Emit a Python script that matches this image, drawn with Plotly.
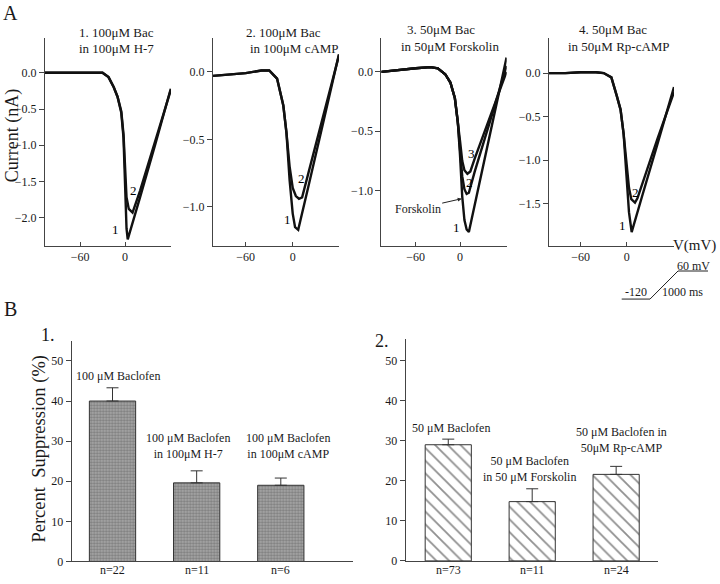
import plotly.graph_objects as go

# ---------------- data: panel A (I-V curves) ----------------
# Subplot 1: 100uM Bac in 100uM H-7
a1_v1 = [-106.7, -80, -60, -40, -30, -22, -15, -10, -5, -2, 0, 2, 3.6, 8, 20, 40, 61]
a1_i1 = [0.0, 0.0, 0.0, 0.01, 0.0, -0.06, -0.2, -0.33, -0.55, -0.9, -1.6, -2.15, -2.30, -2.15, -1.72, -1.0, -0.22]
a1_v2 = [-106.7, -80, -60, -40, -30, -22, -15, -10, -5, -2, 0, 2, 5, 10, 20, 40, 61]
a1_i2 = [0.0, 0.0, 0.0, 0.01, 0.0, -0.06, -0.2, -0.33, -0.53, -0.85, -1.3, -1.72, -1.88, -1.93, -1.63, -0.95, -0.24]

# Subplot 2: 100uM Bac in 100uM cAMP
a2_v1 = [-101.8, -80, -60, -40, -30, -20, -12, -8, -4, 0, 3, 7, 10, 20, 40, 59]
a2_i1 = [-0.03, -0.02, -0.01, 0.01, 0.01, -0.05, -0.25, -0.45, -0.8, -1.05, -1.15, -1.17, -1.1, -0.85, -0.35, 0.13]
a2_v2 = [-101.8, -80, -60, -40, -30, -20, -12, -8, -4, 0, 4, 8, 12, 20, 40, 59]
a2_i2 = [-0.03, -0.02, -0.01, 0.01, 0.01, -0.05, -0.25, -0.45, -0.7, -0.86, -0.92, -0.94, -0.93, -0.75, -0.3, 0.12]

# Subplot 3: 50uM Bac in 50uM Forskolin
a3_v1 = [-106.5, -80, -60, -40, -30, -20, -13, -7, -3, 0, 3, 6, 9, 12, 20, 40, 63]
a3_i1 = [0.0, 0.02, 0.03, 0.04, 0.03, -0.02, -0.09, -0.22, -0.42, -0.7, -1.05, -1.25, -1.33, -1.35, -1.12, -0.54, 0.12]
a3_v2 = [-106.5, -80, -60, -40, -30, -20, -13, -7, -3, 0, 3, 6, 9, 12, 20, 40, 63]
a3_i2 = [0.0, 0.02, 0.03, 0.04, 0.03, -0.02, -0.09, -0.22, -0.42, -0.65, -0.88, -0.99, -1.03, -1.02, -0.84, -0.43, 0.05]
a3_v3 = [-106.5, -80, -60, -40, -30, -20, -13, -7, -3, 0, 3, 6, 10, 14, 20, 40, 63]
a3_i3 = [0.0, 0.02, 0.03, 0.04, 0.03, -0.02, -0.09, -0.22, -0.4, -0.58, -0.75, -0.83, -0.86, -0.84, -0.73, -0.39, 0.0]

# Subplot 4: 50uM Bac in 50uM Rp-cAMP
a4_v1 = [-101.3, -80, -60, -40, -30, -20, -13, -8, -4, 0, 3, 6.5, 10, 20, 40, 61.7]
a4_i1 = [0.0, 0.0, 0.01, 0.01, 0.0, -0.05, -0.26, -0.42, -0.7, -1.2, -1.6, -1.83, -1.72, -1.42, -0.82, -0.16]
a4_v2 = [-101.3, -80, -60, -40, -30, -20, -13, -8, -4, 0, 3, 6, 10.8, 14, 20, 40, 61.7]
a4_i2 = [0.0, 0.0, 0.01, 0.01, 0.0, -0.05, -0.26, -0.42, -0.7, -1.05, -1.32, -1.45, -1.49, -1.44, -1.28, -0.76, -0.22]

a_titles = [("1. 100μM Bac", "in 100μM H-7"),
            ("2. 100μM Bac", "in 100μM cAMP"),
            ("3. 50μM Bac", "in 50μM Forskolin"),
            ("4. 50μM Bac", "in 50μM Rp-cAMP")]
a_yticks = [[0.0, -0.5, -1.0, -1.5, -2.0],
            [0.0, -0.5, -1.0],
            [0.0, -0.5, -1.0],
            [0.0, -0.5, -1.0, -1.5]]
a_xticks = [-60, 0]

# ---------------- data: panel B (bar charts) ----------------
b_cats = [0, 1, 2]
b1_labels = ["n=22", "n=11", "n=6"]
b1_values = [40.0, 19.6, 19.0]
b1_errors = [3.3, 3.0, 1.8]
b1_text = ["100 μM Baclofen", "100 μM Baclofen<br>in 100μM H-7", "100 μM Baclofen<br>in 100μM cAMP"]

b2_labels = ["n=73", "n=11", "n=24"]
b2_values = [29.0, 14.8, 21.6]
b2_errors = [1.4, 3.2, 2.0]
b2_text = ["50 μM Baclofen", "50 μM Baclofen<br>in 50 μM Forskolin", "50 μM Baclofen in<br>50μM Rp-cAMP"]
b_yticks = [0, 10, 20, 30, 40, 50]

# ---------------- figure ----------------
W, H = 720, 584
FONT = "Liberation Serif"
INK = "#1a1a1a"


def px(x):
    return x / W


def py(y):
    return 1 - y / H


fig = go.Figure()

curve_sets = [
    [(a1_v1, a1_i1), (a1_v2, a1_i2)],
    [(a2_v1, a2_i1), (a2_v2, a2_i2)],
    [(a3_v1, a3_i1), (a3_v2, a3_i2), (a3_v3, a3_i3)],
    [(a4_v1, a4_i1), (a4_v2, a4_i2)],
]
for k, curves in enumerate(curve_sets):
    ax = "x" if k == 0 else f"x{k+1}"
    ay = "y" if k == 0 else f"y{k+1}"
    for v, i in curves:
        fig.add_trace(go.Scatter(x=v, y=i, mode="lines", xaxis=ax, yaxis=ay,
                                 line=dict(color="#111", width=2.4),
                                 showlegend=False, hoverinfo="skip"))

# bars
fig.add_trace(go.Bar(x=b_cats, y=b1_values, width=0.55, xaxis="x5", yaxis="y5",
                     marker=dict(color="#a0a0a0", line=dict(color="#333", width=1),
                                 pattern=dict(shape=".", fgcolor="#505050", bgcolor="#ababab",
                                              size=3, solidity=0.5)),
                     error_y=dict(type="data", array=b1_errors, arrayminus=[0, 0, 0],
                                  symmetric=False, color="#333", thickness=1, width=6),
                     showlegend=False, hoverinfo="skip"))
fig.add_trace(go.Bar(x=b_cats, y=b2_values, width=0.55, xaxis="x6", yaxis="y6",
                     marker=dict(color="white", line=dict(color="#333", width=1),
                                 pattern=dict(shape="\\", fgcolor="#222", bgcolor="white",
                                              size=9, solidity=0.2)),
                     error_y=dict(type="data", array=b2_errors, arrayminus=[0, 0, 0],
                                  symmetric=False, color="#333", thickness=1, width=6),
                     showlegend=False, hoverinfo="skip"))

tickfont = dict(family=FONT, size=12, color=INK)

# axes for panel A
a_xdom = [(45, 171), (213, 339), (381.3, 506.7), (549, 674)]
a_xrng = [(-106.7, 61.3), (-101.8, 59.1), (-106.5, 63.2), (-101.3, 61.7)]
a_yrng = [(-2.392, 0.48), (-1.29, 0.25), (-1.469, 0.285), (-1.989, 0.403)]
ydom_a = [py(249), py(38.5)]
layout_axes = {}
for k in range(4):
    xn = "xaxis" if k == 0 else f"xaxis{k+1}"
    yn = "yaxis" if k == 0 else f"yaxis{k+1}"
    xa = "x" if k == 0 else f"x{k+1}"
    ya = "y" if k == 0 else f"y{k+1}"
    layout_axes[xn] = dict(domain=[px(a_xdom[k][0]), px(a_xdom[k][1])], range=list(a_xrng[k]),
                           anchor=ya, tickvals=a_xticks, ticks="inside", ticklen=4,
                           tickcolor="#444", showline=True, linecolor="#444", linewidth=1,
                           showgrid=False, zeroline=False, tickfont=tickfont)
    layout_axes[yn] = dict(domain=ydom_a, range=list(a_yrng[k]), anchor=xa,
                           tickvals=a_yticks[k], tickformat=".1f", ticks="outside", ticklen=5,
                           tickcolor="#444", showline=True, linecolor="#444", linewidth=1,
                           showgrid=False, zeroline=False, tickfont=tickfont)

# axes for panel B
layout_axes["xaxis5"] = dict(domain=[px(71.7), px(353)], range=[-0.485, 2.858], anchor="y5",
                             tickvals=b_cats, showticklabels=False, ticks="", showline=True,
                             linecolor="#444", linewidth=1, showgrid=False, zeroline=False)
layout_axes["yaxis5"] = dict(domain=[py(568.3), py(345)], range=[0, 55.0], anchor="x5",
                             tickvals=b_yticks, ticks="outside", ticklen=5, tickcolor="#444",
                             showline=True, linecolor="#444", linewidth=1, showgrid=False,
                             zeroline=False, tickfont=tickfont)
layout_axes["xaxis6"] = dict(domain=[px(405.7), px(657.7)], range=[-0.507, 2.495], anchor="y6",
                             tickvals=b_cats, showticklabels=False, ticks="", showline=True,
                             linecolor="#444", linewidth=1, showgrid=False, zeroline=False)
layout_axes["yaxis6"] = dict(domain=[py(567.7), py(343.3)], range=[0, 55.35], anchor="x6",
                             tickvals=b_yticks, ticks="outside", ticklen=5, tickcolor="#444",
                             showline=True, linecolor="#444", linewidth=1, showgrid=False,
                             zeroline=False, tickfont=tickfont)

annotations = []


def text(x, y, s, size=13, xanchor="center", angle=0):
    annotations.append(dict(x=px(x), y=py(y), xref="paper", yref="paper", text=s,
                            showarrow=False, xanchor=xanchor, yanchor="middle",
                            textangle=angle, font=dict(family=FONT, size=size, color=INK)))


# panel letters
text(10, 13, "A", size=20)
text(10, 313, "B", size=20)
# A titles
title_pos = [(116.5, 116.5), (283, 294), (441, 450), (612.5, 619)]
title_y = [(33, 49), (33, 49), (30, 46.7), (30, 46.7)]
for k in range(4):
    text(title_pos[k][0], title_y[k][0], a_titles[k][0], size=13)
    text(title_pos[k][1], title_y[k][1], a_titles[k][1], size=13)
# axis titles
text(12, 138, "Current (nA)", size=18, angle=-90)
text(40, 454, "Percent  Suppression (%)", size=18.5, angle=-90)
text(718, 248, "V(mV)", size=15, xanchor="right")
# ramp protocol labels
text(693, 269, "60 mV", size=12)
text(636, 296, "-120", size=12)
text(682.5, 296, "1000 ms", size=12)

# curve labels (data coords)
curve_labels = [("x", "y", -13.3, -2.16, "1"), ("x", "y", 11, -1.62, "2"),
                ("x2", "y2", -6.9, -1.09, "1"), ("x2", "y2", 10.6, -0.79, "2"),
                ("x3", "y3", -4.5, -1.31, "1"), ("x3", "y3", 12.2, -0.93, "2"),
                ("x3", "y3", 14.9, -0.69, "3"),
                ("x4", "y4", -5.7, -1.75, "1"), ("x4", "y4", 12.1, -1.37, "2")]
for xr, yr, xv, yv, s in curve_labels:
    annotations.append(dict(x=xv, y=yv, xref=xr, yref=yr, text=s, showarrow=False,
                            font=dict(family=FONT, size=13, color="#000")))
annotations.append(dict(x=2.3, y=-1.07, xref="x3", yref="y3", text="Forskolin",
                        showarrow=True, arrowhead=2, arrowsize=0.8, arrowwidth=1,
                        arrowcolor="#222", ax=-44, ay=10,
                        font=dict(family=FONT, size=12, color=INK)))

# n= labels under bars (category positions on the bar axes)
for xr, labels in (("x5", b1_labels), ("x6", b2_labels)):
    for c, s in zip(b_cats, labels):
        annotations.append(dict(x=c, y=py(577), xref=xr, yref="paper", text=s, showarrow=False,
                                yanchor="middle", font=dict(family=FONT, size=12, color=INK)))

# panel B texts
text(48, 339, "1.", size=18)
text(382, 345, "2.", size=18)
text(118, 381, b1_text[0], size=12)
text(188, 451.5, b1_text[1], size=12)
text(288, 451.5, b1_text[2], size=12)
text(451, 433, b2_text[0], size=12)
text(529, 475, b2_text[1], size=12)
text(621, 445.5, b2_text[2], size=12)

shapes = [
    dict(type="line", xref="paper", yref="paper", x0=px(621.7), y0=py(302.7), x1=px(650), y1=py(302.7),
         line=dict(color="#222", width=1)),
    dict(type="line", xref="paper", yref="paper", x0=px(650), y0=py(302.7), x1=px(678), y1=py(274.3),
         line=dict(color="#222", width=1)),
    dict(type="line", xref="paper", yref="paper", x0=px(678), y0=py(274.3), x1=px(708), y1=py(274.3),
         line=dict(color="#222", width=1)),
]

fig.update_layout(width=W, height=H, autosize=False,
                  margin=dict(l=0, r=0, t=0, b=0),
                  paper_bgcolor="white", plot_bgcolor="white",
                  font=dict(family=FONT, color=INK),
                  annotations=annotations, shapes=shapes, bargap=0.4,
                  **layout_axes)

fig.write_html("out.html", config={"displayModeBar": False},
               post_script="document.body.style.margin='0';document.body.style.overflow='hidden';")
